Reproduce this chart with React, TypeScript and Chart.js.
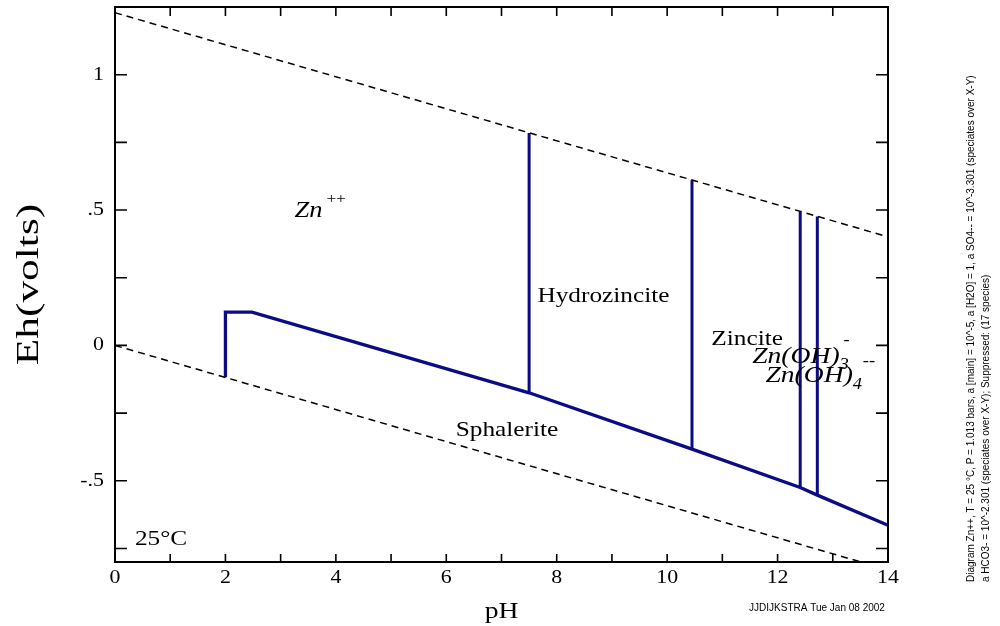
import React, { useEffect, useRef } from "react";
import { Chart, registerables } from "chart.js";

Chart.register(...registerables);

// ---- axis ranges & ticks ----
const PH_RANGE = [0, 14];
const EH_RANGE = [-0.8, 1.25];
const xTickValues = [0, 1, 2, 3, 4, 5, 6, 7, 8, 9, 10, 11, 12, 13, 14];
const xTickLabels = ["0", "", "2", "", "4", "", "6", "", "8", "", "10", "", "12", "", "14"];
const yTickValues = [-0.75, -0.5, -0.25, 0, 0.25, 0.5, 0.75, 1.0];
const yTickLabels = ["", "-.5", "", "0", "", ".5", "", "1"];

// ---- water stability limits (dashed) ----
const upperWaterPH = [0, 14];
const upperWaterEh = [1.229, 0.401];
const lowerWaterPH = [0, 14];
const lowerWaterEh = [0, -0.829];

// ---- sphalerite upper boundary ----
const sphaleritePH = [2.0, 2.0, 2.48, 7.5, 10.45, 12.41, 12.72, 14];
const sphaleriteEh = [-0.118, 0.123, 0.123, -0.175, -0.383, -0.525, -0.553, -0.664];

// ---- vertical field boundaries ----
const vertPH = [7.5, 10.45, 12.41, 12.72];
const vertBottomEh = [-0.175, -0.383, -0.525, -0.553];
const vertTopEh = [0.785, 0.61, 0.494, 0.476];

// ---- field labels (anchor in pH / Eh) ----
const fieldNames = ["Hydrozincite", "Zincite", "Sphalerite", "25°C"];
const fieldPH = [7.65, 10.8, 7.1, 0.36];
const fieldEh = [0.16, 0.0, -0.335, -0.737];
const fieldAlign = ["left", "left", "center", "left"];

const NAVY = "#0b0b85";
const SERIF = "'Liberation Serif', 'Times New Roman', serif";
const SANS = "'Liberation Sans', Arial, sans-serif";
const HS = 1.15; // horizontal stretch of text in reference

const sideLine1 =
  "Diagram Zn++, T = 25 °C, P = 1.013 bars, a [main] = 10^-5, a [H2O] = 1, a SO4-- = 10^-3.301 (speciates over X-Y)";
const sideLine2 = "a HCO3- = 10^-2.301 (speciates over X-Y); Suppressed: (17 species)";
const credit = "JJDIJKSTRA Tue Jan 08 2002";

function pts(xs: number[], ys: number[]) {
  return xs.map((x, i) => ({ x, y: ys[i] }));
}

type Part = { t: string; size: number; italic?: boolean; dy?: number; dx?: number; stack?: boolean };

function drawParts(ctx: CanvasRenderingContext2D, parts: Part[], x: number, y: number) {
  let cx = x;
  let lastStart = x;
  for (const p of parts) {
    ctx.font = `${p.italic ? "italic " : ""}${p.size}px ${SERIF}`;
    const start = p.stack ? lastStart + (p.dx || 0) : cx + (p.dx || 0);
    ctx.save();
    ctx.translate(start, y + (p.dy || 0));
    ctx.scale(HS, 1);
    ctx.textAlign = "left";
    ctx.textBaseline = "alphabetic";
    ctx.fillText(p.t, 0, 0);
    ctx.restore();
    const w = ctx.measureText(p.t).width * HS;
    if (!p.stack) {
      lastStart = start;
      cx = start + w;
    } else {
      cx = Math.max(cx, start + w);
    }
  }
}

function stretchedText(
  ctx: CanvasRenderingContext2D,
  text: string,
  x: number,
  y: number,
  align: string,
  font: string,
  hs: number = HS
) {
  ctx.font = font;
  const w = ctx.measureText(text).width * hs;
  let sx = x;
  if (align === "center") sx = x - w / 2;
  if (align === "right") sx = x - w;
  ctx.save();
  ctx.translate(sx, y);
  ctx.scale(hs, 1);
  ctx.textAlign = "left";
  ctx.fillText(text, 0, 0);
  ctx.restore();
}

const decorPlugin = {
  id: "decor",
  afterDatasetsDraw(chart: any) {
    const { ctx, chartArea, scales } = chart;
    const { left, right, top, bottom } = chartArea;
    const xs = scales.x;
    const ys = scales.y;
    ctx.save();
    ctx.fillStyle = "#000";
    ctx.strokeStyle = "#000";
    ctx.lineWidth = 2;
    ctx.setLineDash([]);
    ctx.strokeRect(left, top, right - left, bottom - top);

    // x ticks (inside, top and bottom)
    ctx.lineWidth = 1.6;
    xTickValues.forEach((v, i) => {
      const px = xs.getPixelForValue(v);
      ctx.beginPath();
      ctx.moveTo(px, bottom);
      ctx.lineTo(px, bottom - 8);
      ctx.moveTo(px, top);
      ctx.lineTo(px, top + 9);
      ctx.stroke();
      if (xTickLabels[i]) {
        ctx.textBaseline = "middle";
        stretchedText(ctx, xTickLabels[i], px, bottom + 16, "center", `19px ${SERIF}`);
      }
    });
    // y ticks (inside, left and right)
    yTickValues.forEach((v, i) => {
      const py = ys.getPixelForValue(v);
      ctx.beginPath();
      ctx.moveTo(left, py);
      ctx.lineTo(left + 12, py);
      ctx.moveTo(right, py);
      ctx.lineTo(right - 12, py);
      ctx.stroke();
      if (yTickLabels[i]) {
        ctx.textBaseline = "middle";
        stretchedText(ctx, yTickLabels[i], left - 11, py, "right", `19px ${SERIF}`);
      }
    });

    // axis titles
    ctx.textBaseline = "alphabetic";
    stretchedText(ctx, "pH", (left + right) / 2, 618, "center", `24px ${SERIF}`);
    ctx.save();
    ctx.translate(38, (top + bottom) / 2);
    ctx.rotate(-Math.PI / 2);
    ctx.font = `28px ${SERIF}`;
    ctx.textAlign = "center";
    ctx.textBaseline = "alphabetic";
    ctx.scale(1.55, 1.15);
    ctx.fillText("Eh(volts)", 0, 0);
    ctx.restore();

    // field labels
    fieldNames.forEach((name, i) => {
      const px = xs.getPixelForValue(fieldPH[i]);
      const py = ys.getPixelForValue(fieldEh[i]);
      ctx.textBaseline = "alphabetic";
      stretchedText(ctx, name, px, py, fieldAlign[i], `22px ${SERIF}`);
    });

    // species labels
    drawParts(
      ctx,
      [
        { t: "Zn", size: 23, italic: true },
        { t: "++", size: 15, dy: -14, dx: 4 },
      ],
      xs.getPixelForValue(3.25),
      ys.getPixelForValue(0.475)
    );
    drawParts(
      ctx,
      [
        { t: "Zn(OH)", size: 24, italic: true },
        { t: "3", size: 16, italic: true, dy: 6 },
        { t: "-", size: 16, dy: -18, stack: true, dx: 4 },
      ],
      xs.getPixelForValue(11.54),
      ys.getPixelForValue(-0.065)
    );
    drawParts(
      ctx,
      [
        { t: "Zn(OH)", size: 24, italic: true },
        { t: "4", size: 16, italic: true, dy: 7 },
        { t: "--", size: 16, dy: -16, stack: true, dx: 10 },
      ],
      xs.getPixelForValue(11.78),
      ys.getPixelForValue(-0.135)
    );

    // credit
    ctx.textBaseline = "middle";
    stretchedText(ctx, credit, 817, 608, "center", `10px ${SANS}`, 1);

    // side notes (rotated)
    ctx.font = `10px ${SANS}`;
    [sideLine1, sideLine2].forEach((line, i) => {
      ctx.save();
      ctx.translate(971 + i * 15, 582);
      ctx.rotate(-Math.PI / 2);
      ctx.textAlign = "left";
      ctx.textBaseline = "middle";
      ctx.fillText(line, 0, 0);
      ctx.restore();
    });
    ctx.restore();
  },
};

export default function App() {
  const ref = useRef<HTMLCanvasElement | null>(null);
  useEffect(() => {
    if (!ref.current) return;
    const dashed = { borderColor: "#000", borderWidth: 1.5, borderDash: [7, 5] };
    const solid = { borderColor: NAVY, borderWidth: 3.3 };
    const datasets: any[] = [
      { data: pts(upperWaterPH, upperWaterEh), ...dashed },
      { data: pts(lowerWaterPH, lowerWaterEh), ...dashed },
      { data: pts(sphaleritePH, sphaleriteEh), ...solid, borderJoinStyle: "miter" },
      ...vertPH.map((p, i) => ({
        data: pts([p, p], [vertBottomEh[i], vertTopEh[i]]),
        ...solid,
        borderWidth: 3,
      })),
    ].map((d) => ({ ...d, showLine: true, pointRadius: 0, fill: false, tension: 0 }));

    const chart = new Chart(ref.current, {
      type: "scatter",
      data: { datasets },
      options: {
        animation: false,
        responsive: false,
        devicePixelRatio: 1,
        layout: { padding: { left: 115, right: 112, top: 7, bottom: 64 } },
        plugins: { legend: { display: false }, tooltip: { enabled: false } },
        scales: {
          x: { type: "linear", min: PH_RANGE[0], max: PH_RANGE[1], display: false },
          y: { type: "linear", min: EH_RANGE[0], max: EH_RANGE[1], display: false },
        },
      },
      plugins: [decorPlugin],
    });
    return () => chart.destroy();
  }, []);
  return (
    <div style={{ position: "absolute", left: 0, top: 0, width: 1000, height: 626, background: "#fff" }}>
      <canvas ref={ref} width={1000} height={626} />
    </div>
  );
}
